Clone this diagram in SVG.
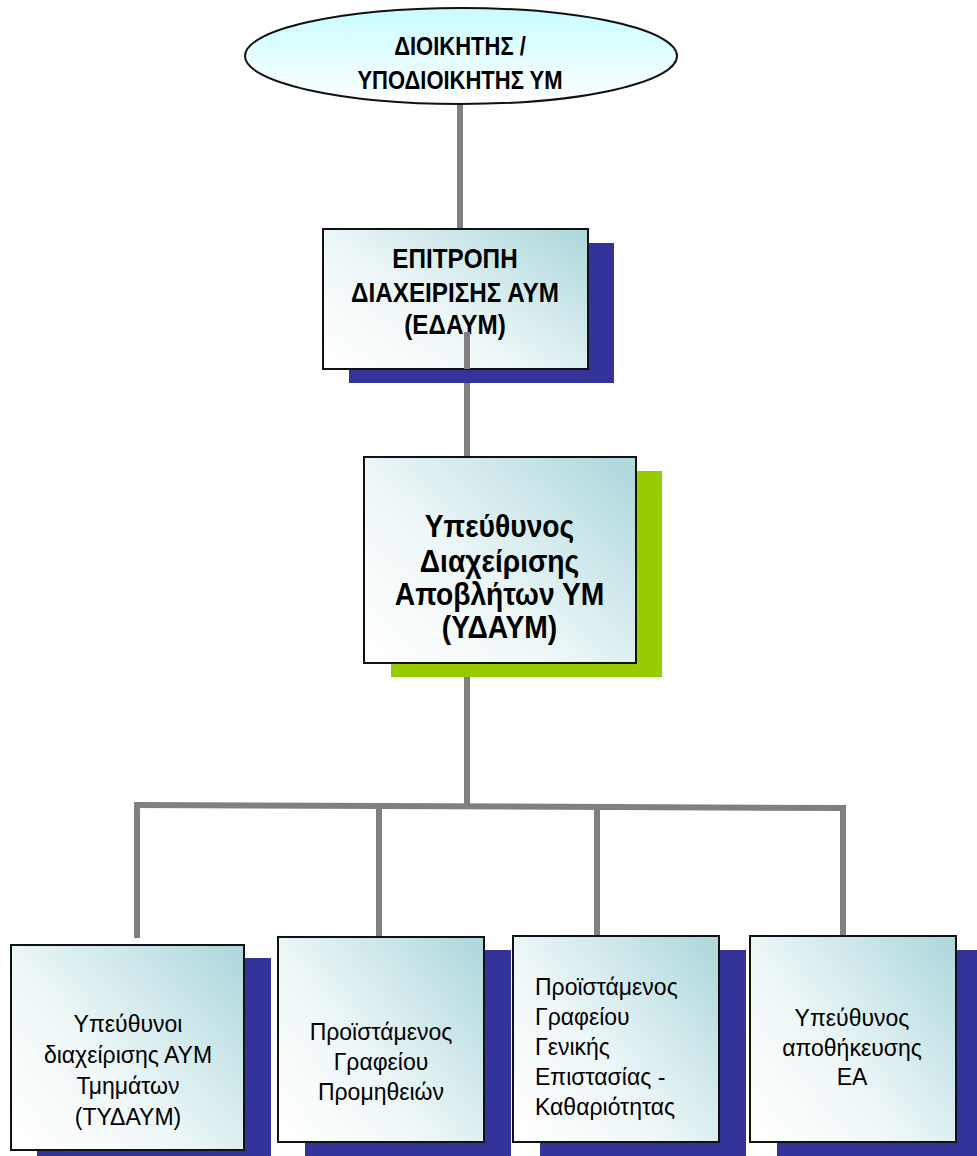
<svg xmlns="http://www.w3.org/2000/svg" width="977" height="1156" viewBox="0 0 977 1156">
<defs>
<linearGradient id="ell" x1="0" y1="0" x2="0" y2="1">
<stop offset="0" stop-color="#c8fcff"/>
<stop offset="1" stop-color="#ffffff"/>
</linearGradient>
<linearGradient id="box" x1="0" y1="0.9" x2="1" y2="0.1">
<stop offset="0" stop-color="#ffffff"/>
<stop offset="0.4" stop-color="#eef7f8"/>
<stop offset="1" stop-color="#b0d9dd"/>
</linearGradient>
</defs>
<style>
.box{fill:url(#box);stroke:#111;stroke-width:2}
.sb{fill:#333399}
.sg{fill:#99cc00}
.con{stroke:#808080;stroke-width:6;fill:none}
.b{font-family:"Liberation Sans",Arial,sans-serif;font-weight:bold;fill:#000;text-anchor:middle}
.r{font-family:"Liberation Sans",Arial,sans-serif;font-size:23px;fill:#000}
</style>
<rect width="977" height="1156" fill="#fff"/>
<g id="connectors">
<line class="con" x1="460" y1="100" x2="460" y2="229"/>
<line class="con" x1="467" y1="332" x2="467" y2="457"/>
<line class="con" x1="467" y1="663" x2="467" y2="806"/>
<line class="con" x1="134" y1="805" x2="846" y2="808"/>
<line class="con" x1="137" y1="805" x2="137" y2="938"/>
<line class="con" x1="379" y1="806" x2="379" y2="937"/>
<line class="con" x1="597" y1="807" x2="597" y2="937"/>
<line class="con" x1="843" y1="808" x2="843" y2="937"/>
</g>
<g id="n1">
<ellipse cx="461" cy="56" rx="216" ry="48" fill="url(#ell)" stroke="#111" stroke-width="2"/>
<text class="b" font-size="25" transform="translate(460,55) scale(0.88,1)">ΔΙΟΙΚΗΤΗΣ /</text>
<text class="b" font-size="25" transform="translate(460,89) scale(0.88,1)">ΥΠΟΔΙΟΙΚΗΤΗΣ ΥΜ</text>
</g>
<g id="n2">
<rect class="sb" x="349" y="243" width="265" height="140"/>
<rect class="box" x="323" y="229" width="265" height="140"/>
<text class="b" font-size="28" transform="translate(455,268) scale(0.866,1)">ΕΠΙΤΡΟΠΗ</text>
<text class="b" font-size="28" transform="translate(455,302) scale(0.866,1)">ΔΙΑΧΕΙΡΙΣΗΣ ΑΥΜ</text>
<text class="b" font-size="28" transform="translate(455,334) scale(0.866,1)">(ΕΔΑΥΜ)</text>
</g>
<line class="con" x1="467" y1="332" x2="467" y2="369"/>
<g id="n3">
<rect class="sg" x="391" y="471" width="271" height="206"/>
<rect class="box" x="364" y="457" width="272" height="206"/>
<text class="b" font-size="31" transform="translate(499.5,537) scale(0.91,1)">Υπεύθυνος</text>
<text class="b" font-size="31" transform="translate(499.5,572) scale(0.91,1)">Διαχείρισης</text>
<text class="b" font-size="31" transform="translate(499.5,605) scale(0.91,1)">Αποβλήτων ΥΜ</text>
<text class="b" font-size="31" transform="translate(499.5,638) scale(0.91,1)">(ΥΔΑΥΜ)</text>
</g>
<g id="n4">
<rect class="sb" x="37" y="958" width="234" height="198"/>
<rect class="box" x="11" y="945" width="233" height="205"/>
<text class="r" text-anchor="middle" x="128" y="1032">Υπεύθυνοι</text>
<text class="r" text-anchor="middle" x="128" y="1063">διαχείρισης ΑΥΜ</text>
<text class="r" text-anchor="middle" x="128" y="1094">Τμημάτων</text>
<text class="r" text-anchor="middle" x="128" y="1125">(ΤΥΔΑΥΜ)</text>
</g>
<g id="n5">
<rect class="sb" x="305" y="950" width="206" height="206"/>
<rect class="box" x="278" y="937" width="206" height="205"/>
<text class="r" text-anchor="middle" x="381" y="1040">Προϊστάμενος</text>
<text class="r" text-anchor="middle" x="381" y="1070">Γραφείου</text>
<text class="r" text-anchor="middle" x="381" y="1100">Προμηθειών</text>
</g>
<g id="n6">
<rect class="sb" x="540" y="950" width="206" height="206"/>
<rect class="box" x="513" y="936" width="206" height="206"/>
<text class="r" x="535" y="995">Προϊστάμενος</text>
<text class="r" x="535" y="1025">Γραφείου</text>
<text class="r" x="535" y="1055">Γενικής</text>
<text class="r" x="535" y="1085">Επιστασίας -</text>
<text class="r" x="535" y="1115">Καθαριότητας</text>
</g>
<g id="n7">
<rect class="sb" x="777" y="950" width="200" height="206"/>
<rect class="box" x="750" y="936" width="206" height="206"/>
<text class="r" text-anchor="middle" x="852" y="1026">Υπεύθυνος</text>
<text class="r" text-anchor="middle" x="852" y="1056">αποθήκευσης</text>
<text class="r" text-anchor="middle" x="852" y="1085">ΕΑ</text>
</g>
</svg>
